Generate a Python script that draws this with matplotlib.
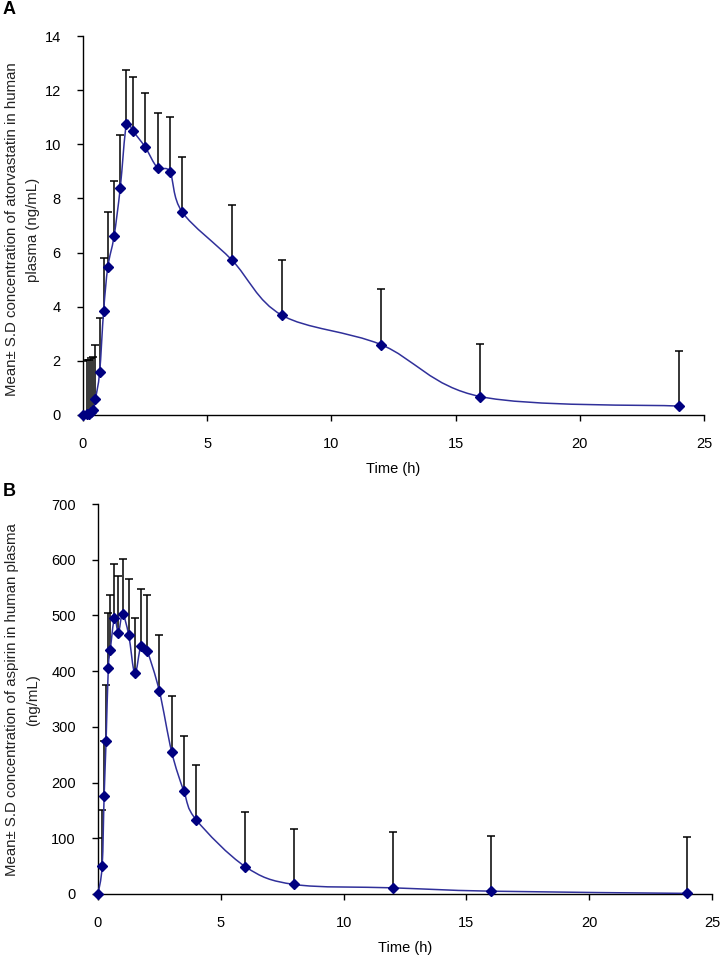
import numpy as np
import matplotlib
matplotlib.use("Agg")
import matplotlib.pyplot as plt
from matplotlib.path import Path
from matplotlib.patches import PathPatch

plt.rcParams['font.family'] = ['Liberation Sans', 'DejaVu Sans']

# sampling times (h), shared by both panels
time_h = [0, 0.17, 0.25, 0.33, 0.42, 0.5, 0.67, 0.83, 1, 1.25, 1.5, 1.75, 2,
          2.5, 3, 3.5, 4, 6, 8, 12, 16, 24]

# panel A - atorvastatin (ng/mL)
atorva_mean = [0, 0.02, 0.05, 0.1, 0.18, 0.58, 1.58, 3.84, 5.47, 6.6, 8.39,
               10.76, 10.5, 9.9, 9.13, 8.98, 7.49, 5.72, 3.69, 2.6, 0.68, 0.33]
atorva_sd = [2.0, 2.0, 2.0, 2.02, 1.97, 2.02, 2.01, 1.96, 2.02, 2.03, 1.97,
             1.97, 1.98, 1.99, 2.01, 2.02, 2.04, 2.02, 2.03, 2.04, 1.96, 2.03]

# panel B - aspirin (ng/mL)
aspirin_mean = [0, 50, 176, 275, 405, 438, 495, 469, 502, 465, 396, 446, 436,
                364, 255, 184, 133, 49, 17, 11, 5, 1]
aspirin_sd = [100, 101, 99, 100, 100, 99, 97, 101, 99, 100, 100, 101, 101,
              101, 101, 100, 99, 99, 100, 101, 99, 101]

x_ticks = [0, 5, 10, 15, 20, 25]
a_yticks = [0, 2, 4, 6, 8, 10, 12, 14]
b_yticks = [0, 100, 200, 300, 400, 500, 600, 700]

line_col = '#30309a'
mark_col = '#000080'


def smooth_path(x, y, sx, sy):
    # excel-like smoothed line (catmull-rom bezier), done in pixel-ish space
    X = np.asarray(x, float) * sx
    Y = np.asarray(y, float) * sy
    n = len(X)
    verts = [(X[0], Y[0])]
    codes = [Path.MOVETO]
    for i in range(n - 1):
        i0 = max(i - 1, 0)
        i3 = min(i + 2, n - 1)
        c1 = (X[i] + (X[i + 1] - X[i0]) / 6, Y[i] + (Y[i + 1] - Y[i0]) / 6)
        c2 = (X[i + 1] - (X[i3] - X[i]) / 6, Y[i + 1] - (Y[i3] - Y[i]) / 6)
        verts += [c1, c2, (X[i + 1], Y[i + 1])]
        codes += [Path.CURVE4] * 3
    verts = np.array(verts) / [sx, sy]
    return Path(verts, codes)


def panel(ax, t, mean, sd, ymax, yticks):
    fig = ax.figure
    bb = ax.get_position()
    wpx = bb.width * fig.get_figwidth() * fig.dpi
    hpx = bb.height * fig.get_figheight() * fig.dpi
    eb = ax.errorbar(t, mean, yerr=[np.zeros(len(sd)), sd], fmt='none',
                     ecolor='black', elinewidth=1.1, capsize=3, capthick=1.1,
                     zorder=2)
    eb[1][0].set_visible(False)
    path = smooth_path(t, mean, wpx / 25.0, hpx / ymax)
    ax.add_patch(PathPatch(path, fill=False, edgecolor=line_col, lw=1.1,
                           zorder=3))
    ax.plot(t, mean, linestyle='none', marker='D', markersize=5.5,
            color=mark_col, zorder=4, clip_on=False)
    ax.set_xlim(0, 25)
    ax.set_ylim(0, ymax)
    ax.set_xticks(x_ticks)
    ax.set_yticks(yticks)
    for s in ['top', 'right']:
        ax.spines[s].set_visible(False)
    for s in ['left', 'bottom']:
        ax.spines[s].set_linewidth(1.0)
    ax.tick_params(direction='out', length=4, width=1, labelsize=10.5,
                   pad=12)
    ax.set_xlabel('Time (h)', fontsize=10.5, labelpad=8)


fig = plt.figure(figsize=(7.21, 9.56), dpi=100)
ax1 = fig.add_axes([0.1151, 0.5659, 0.8613, 0.3964])
ax2 = fig.add_axes([0.1359, 0.0649, 0.8516, 0.4079])

panel(ax1, time_h, atorva_mean, atorva_sd, 14, a_yticks)
panel(ax2, time_h, aspirin_mean, aspirin_sd, 700, b_yticks)

fig.text(0.031, 0.760, 'Mean\u00b1 S.D concentration of atorvastatin in human\nplasma (ng/mL)',
         rotation=90, ha='center', va='center', fontsize=10.8, color='#222222',
         linespacing=1.6)
fig.text(0.031, 0.268, 'Mean\u00b1 S.D concentration of aspirin in human plasma\n(ng/mL)',
         rotation=90, ha='center', va='center', fontsize=10.8, color='#222222',
         linespacing=1.6)

fig.text(0.004, 0.999, 'A', fontsize=13, fontweight='bold', ha='left', va='top')
fig.text(0.004, 0.495, 'B', fontsize=13, fontweight='bold', ha='left', va='top')

fig.savefig('out.png', dpi=100)
